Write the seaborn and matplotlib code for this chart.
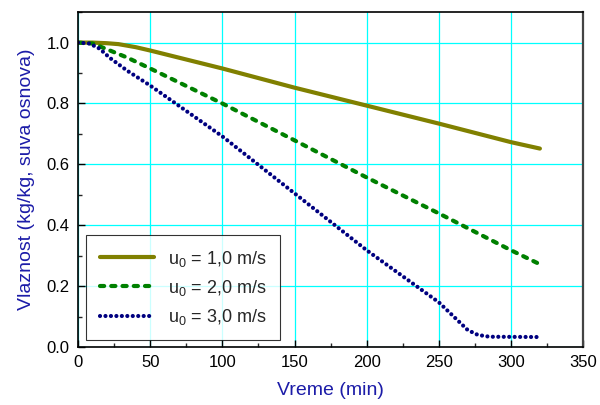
import matplotlib
matplotlib.use('Agg')
import matplotlib.pyplot as plt
import seaborn as sns
from matplotlib.ticker import MultipleLocator

# vrednosti ocitane sa slike
time_1 = [0, 10, 20, 28, 40, 50, 100, 150, 200, 250, 300, 320]
moist_1 = [1.0, 1.0, 0.998, 0.995, 0.985, 0.974, 0.915, 0.852, 0.793, 0.734, 0.673, 0.652]
time_2 = [0, 10, 17, 34, 50, 100, 150, 200, 250, 300, 320]
moist_2 = [1.0, 0.997, 0.984, 0.951, 0.915, 0.80, 0.679, 0.557, 0.439, 0.318, 0.272]
time_3 = [0, 8, 15, 22, 34, 50, 100, 150, 200, 250, 270, 277, 285, 320]
moist_3 = [1.0, 0.997, 0.98, 0.95, 0.908, 0.859, 0.692, 0.505, 0.318, 0.147, 0.056, 0.04, 0.034, 0.033]
labels = [r'u$_\mathregular{0}$ = 1,0 m/s', r'u$_\mathregular{0}$ = 2,0 m/s', r'u$_\mathregular{0}$ = 3,0 m/s']

sns.set_theme(style="white")
plt.rcParams['font.family'] = ['Liberation Sans', 'DejaVu Sans']
plt.rcParams['mathtext.fontset'] = 'custom'
plt.rcParams['mathtext.rm'] = 'Liberation Sans'

label_color = '#1c1ca8'

fig = plt.figure(figsize=(6, 4.05), dpi=100)
ax = fig.add_axes([0.13, 0.143, 0.842, 0.827])

sns.lineplot(x=time_1, y=moist_1, ax=ax, color='#808000', linewidth=3,
             solid_capstyle='round', label=labels[0])
sns.lineplot(x=time_2, y=moist_2, ax=ax, color='#008000', linewidth=3,
             linestyle=(0, (1.0, 1.7)), dash_capstyle='round', label=labels[1])
sns.lineplot(x=time_3, y=moist_3, ax=ax, color='#000080', linewidth=3,
             linestyle=(0, (0.01, 1.3)), dash_capstyle='round', label=labels[2])

ax.set_xlim(0, 350)
ax.set_ylim(0, 1.1)
ax.xaxis.set_major_locator(MultipleLocator(50))
ax.xaxis.set_minor_locator(MultipleLocator(25))
ax.yaxis.set_major_locator(MultipleLocator(0.2))
ax.yaxis.set_minor_locator(MultipleLocator(0.1))
ax.yaxis.set_major_formatter(plt.FuncFormatter(lambda v, loc: f'{v:.1f}'))

ax.grid(True, which='major', color='#00ffff', linewidth=0.9)
ax.set_axisbelow(True)
ax.tick_params(which='major', direction='in', length=5, width=1, labelsize=12,
               colors='black', bottom=True, left=True, pad=6)
ax.tick_params(which='minor', direction='in', length=3, width=1, bottom=True, left=True)
for side in ['left', 'bottom', 'top']:
    ax.spines[side].set_color('black')
    ax.spines[side].set_linewidth(1.2)
ax.spines['right'].set_color('#444444')
ax.spines['right'].set_linewidth(1.6)

ax.set_xlabel('Vreme (min)', fontsize=14, color=label_color, labelpad=8)
ax.set_ylabel('Vlaznost (kg/kg, suva osnova)', fontsize=14, color=label_color, labelpad=8)

leg = ax.legend(loc='lower left', bbox_to_anchor=(0.016, 0.02), borderaxespad=0,
                fontsize=13, handlelength=3.0, frameon=True, fancybox=False,
                borderpad=0.75, labelspacing=0.5, handletextpad=0.8)
leg.get_frame().set_edgecolor('black')
leg.get_frame().set_linewidth(0.8)

fig.savefig('out.png', dpi=100)
